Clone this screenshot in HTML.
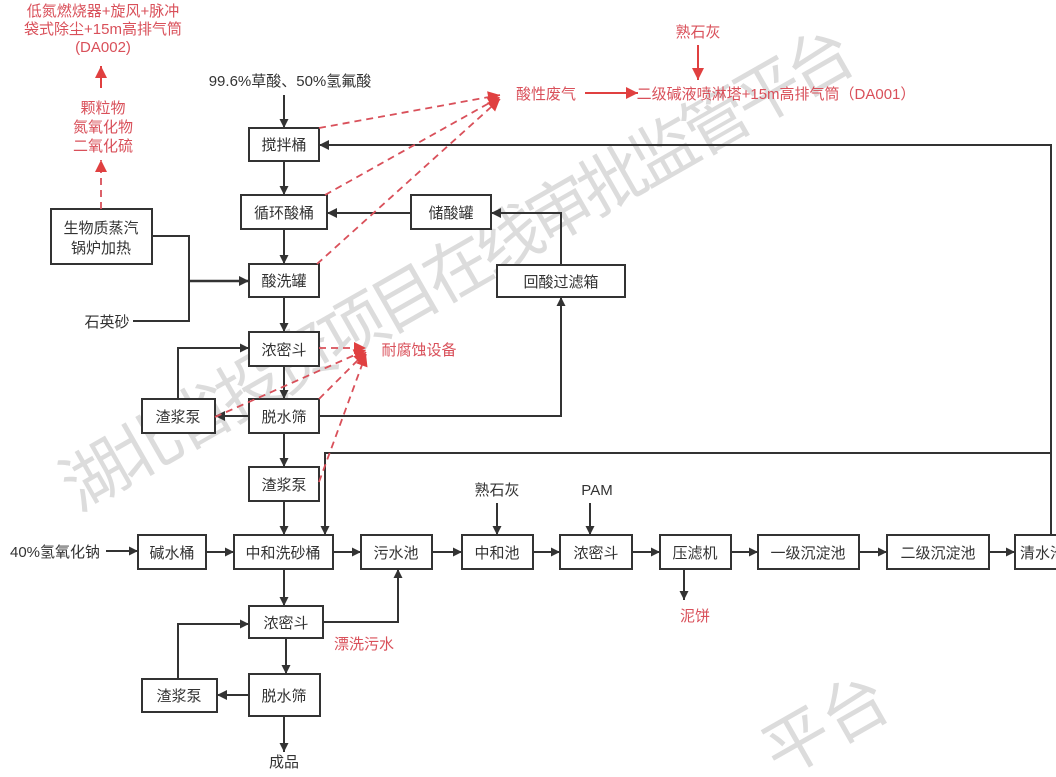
<!DOCTYPE html>
<html><head><meta charset="utf-8"><style>
html,body{margin:0;padding:0;background:#fff;width:1056px;height:777px;overflow:hidden;}
svg{display:block;}
text{font-family:"Liberation Sans","Noto Sans CJK SC",sans-serif;}
</style></head><body>
<svg width="1056" height="777" viewBox="0 0 1056 777" xmlns="http://www.w3.org/2000/svg">
<defs>
<clipPath id="cl"><rect x="0" y="0" width="1056" height="777"/></clipPath>
<marker id="a" viewBox="0 0 10 10" refX="10" refY="5" markerWidth="12" markerHeight="9" orient="auto" markerUnits="userSpaceOnUse"><path d="M0,0L10,5L0,10z" fill="#333"/></marker>
<marker id="ak" viewBox="0 0 10 10" refX="10" refY="5" markerWidth="13" markerHeight="10" orient="auto" markerUnits="userSpaceOnUse"><path d="M0,0L10,5L0,10z" fill="#333"/></marker>
<marker id="r" viewBox="0 0 10 10" refX="10" refY="5" markerWidth="14" markerHeight="12" orient="auto" markerUnits="userSpaceOnUse"><path d="M0,0L10,5L0,10z" fill="#e04040"/></marker>
</defs>
<g clip-path="url(#cl)">
<g fill="#dcdcdc" font-size="66" transform="translate(78,512) rotate(-29.7)">
<text x="0" y="0" style="font-family:'Noto Sans CJK SC',sans-serif" textLength="900" lengthAdjust="spacing">湖北省投资项目在线审批监管平台</text>
</g>
<g fill="#dcdcdc" font-size="66" transform="translate(780,778) rotate(-29.7)">
<text x="0" y="0" style="font-family:'Noto Sans CJK SC',sans-serif">平台</text>
</g>
</g>

<g stroke="#333" stroke-width="2" fill="none">
<rect x="249" y="128" width="70" height="33" fill="#fff"/>
<rect x="241" y="195" width="86" height="34" fill="#fff"/>
<rect x="411" y="195" width="80" height="34" fill="#fff"/>
<rect x="249" y="264" width="70" height="33" fill="#fff"/>
<rect x="497" y="265" width="128" height="32" fill="#fff"/>
<rect x="51" y="209" width="101" height="55" fill="#fff"/>
<rect x="249" y="332" width="70" height="34" fill="#fff"/>
<rect x="142" y="399" width="73" height="34" fill="#fff"/>
<rect x="249" y="399" width="70" height="34" fill="#fff"/>
<rect x="249" y="467" width="70" height="34" fill="#fff"/>
<rect x="138" y="535" width="68" height="34" fill="#fff"/>
<rect x="234" y="535" width="99" height="34" fill="#fff"/>
<rect x="361" y="535" width="71" height="34" fill="#fff"/>
<rect x="462" y="535" width="71" height="34" fill="#fff"/>
<rect x="560" y="535" width="72" height="34" fill="#fff"/>
<rect x="660" y="535" width="71" height="34" fill="#fff"/>
<rect x="758" y="535" width="101" height="34" fill="#fff"/>
<rect x="887" y="535" width="102" height="34" fill="#fff"/>
<path d="M1058,535H1015V569H1058" fill="#fff"/>
<rect x="249" y="606" width="74" height="32" fill="#fff"/>
<rect x="142" y="679" width="75" height="33" fill="#fff"/>
<rect x="249" y="674" width="71" height="42" fill="#fff"/>

<path d="M284,95V128" marker-end="url(#a)"/>
<path d="M284,161V195" marker-end="url(#a)"/>
<path d="M284,229V264" marker-end="url(#a)"/>
<path d="M284,297V332" marker-end="url(#a)"/>
<path d="M284,366V399" marker-end="url(#a)"/>
<path d="M284,433V467" marker-end="url(#a)"/>
<path d="M284,501V535" marker-end="url(#a)"/>
<path d="M284,569V606" marker-end="url(#a)"/>
<path d="M286,638V674" marker-end="url(#a)"/>
<path d="M284,716V752" marker-end="url(#a)"/>
<path d="M1051,535V145H319" marker-end="url(#ak)"/>
<path d="M411,213H327" marker-end="url(#ak)"/>
<path d="M561,265V213H491" marker-end="url(#ak)"/>
<path d="M319,416H561V297" marker-end="url(#a)"/>
<path d="M152,236H189V321H133"/>
<path d="M189,281H249" marker-end="url(#ak)" stroke-width="2.5"/>
<path d="M249,416H215" marker-end="url(#ak)"/>
<path d="M178,399V348H249" marker-end="url(#a)"/>
<path d="M1051,453H325V535" marker-end="url(#a)"/>
<path d="M106,551H138" marker-end="url(#a)"/>
<path d="M206,552H234" marker-end="url(#a)"/>
<path d="M333,552H361" marker-end="url(#a)"/>
<path d="M432,552H462" marker-end="url(#a)"/>
<path d="M533,552H560" marker-end="url(#a)"/>
<path d="M632,552H660" marker-end="url(#a)"/>
<path d="M731,552H758" marker-end="url(#a)"/>
<path d="M859,552H887" marker-end="url(#a)"/>
<path d="M989,552H1015" marker-end="url(#a)"/>
<path d="M497,503V535" marker-end="url(#a)"/>
<path d="M590,503V535" marker-end="url(#a)"/>
<path d="M684,569V600" marker-end="url(#a)"/>
<path d="M323,622H398V569" marker-end="url(#a)"/>
<path d="M249,695H217" marker-end="url(#ak)"/>
<path d="M178,679V624H249" marker-end="url(#a)"/>
</g>

<g stroke="#d9505a" stroke-width="1.8" fill="none" stroke-dasharray="7,5">
<path d="M319,128L500,95" marker-end="url(#r)"/>
<path d="M325,195L500,97" marker-end="url(#r)"/>
<path d="M317,264L500,99" marker-end="url(#r)"/>
<path d="M101,209V160" marker-end="url(#r)"/>
<path d="M319,348L366,348" marker-end="url(#r)"/>
<path d="M319,399L366,352" marker-end="url(#r)"/>
<path d="M215,417L366,350" marker-end="url(#r)"/>
<path d="M319,482L366,354" marker-end="url(#r)"/>
</g>
<g stroke="#e04040" stroke-width="2" fill="none">
<path d="M585,93H638" marker-end="url(#r)"/>
<path d="M698,45V80" marker-end="url(#r)"/>
<path d="M101,88V66" marker-end="url(#r)"/>
</g>

<g font-size="15" fill="#333" text-anchor="middle">
<text x="284" y="150">搅拌桶</text>
<text x="284" y="218">循环酸桶</text>
<text x="451" y="218">储酸罐</text>
<text x="284" y="286">酸洗罐</text>
<text x="561" y="287">回酸过滤箱</text>
<text x="101" y="233">生物质蒸汽</text>
<text x="101" y="253">锅炉加热</text>
<text x="284" y="355">浓密斗</text>
<text x="178" y="422">渣浆泵</text>
<text x="284" y="422">脱水筛</text>
<text x="284" y="490">渣浆泵</text>
<text x="172" y="558">碱水桶</text>
<text x="283" y="558">中和洗砂桶</text>
<text x="396" y="558">污水池</text>
<text x="497" y="558">中和池</text>
<text x="596" y="558">浓密斗</text>
<text x="695" y="558">压滤机</text>
<text x="808" y="558">一级沉淀池</text>
<text x="938" y="558">二级沉淀池</text>
<text x="1020" y="558" text-anchor="start">清水池</text>
<text x="286" y="628">浓密斗</text>
<text x="179" y="701">渣浆泵</text>
<text x="284" y="701">脱水筛</text>
<text x="284" y="767">成品</text>
<text x="290" y="86">99.6%草酸、50%氢氟酸</text>
<text x="107" y="327">石英砂</text>
<text x="55" y="557">40%氢氧化钠</text>
<text x="497" y="495">熟石灰</text>
<text x="597" y="495">PAM</text>
</g>
<g font-size="15" fill="#d9505a" text-anchor="middle">
<text x="103" y="16">低氮燃烧器+旋风+脉冲</text>
<text x="103" y="34">袋式除尘+15m高排气筒</text>
<text x="103" y="52">(DA002)</text>
<text x="103" y="113">颗粒物</text>
<text x="103" y="132">氮氧化物</text>
<text x="103" y="151">二氧化硫</text>
<text x="546" y="99">酸性废气</text>
<text x="776" y="99">二级碱液喷淋塔+15m高排气筒（DA001）</text>
<text x="698" y="37">熟石灰</text>
<text x="419" y="355">耐腐蚀设备</text>
<text x="364" y="649">漂洗污水</text>
<text x="695" y="621">泥饼</text>
</g>
</svg>
</body></html>
